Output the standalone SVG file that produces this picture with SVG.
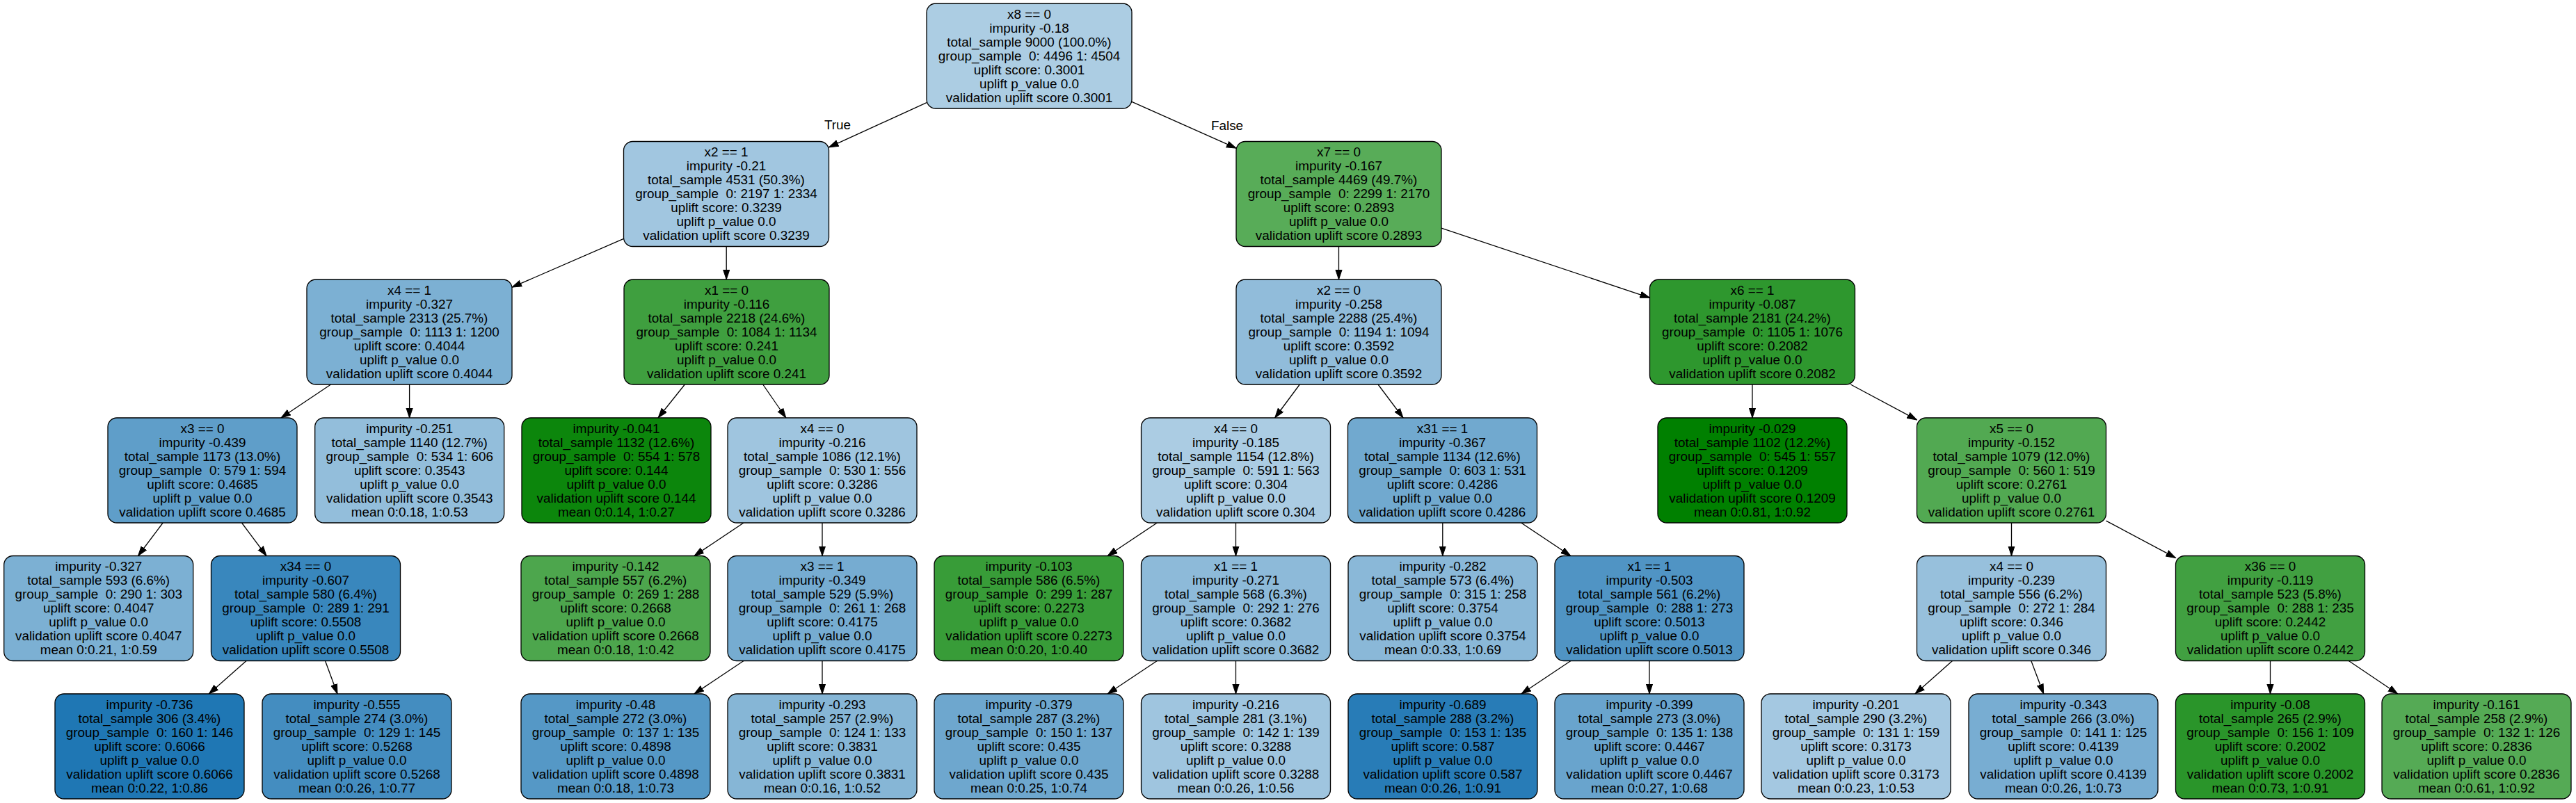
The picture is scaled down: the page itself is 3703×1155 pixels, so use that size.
<svg xmlns="http://www.w3.org/2000/svg" width="3703" height="1155" viewBox="0 0 3703 1155">
<style>
.bg{fill:#ffffff}
.box{stroke:#000000;stroke-width:1.3}
.t{font-family:"Liberation Sans",Arial,Helvetica,sans-serif;font-size:18.9px;fill:#000000;text-anchor:middle;white-space:pre}
.e{stroke:#000000;stroke-width:1.3;fill:none;marker-end:url(#arr)}
</style>
<defs>
<marker id="arr" markerUnits="userSpaceOnUse" markerWidth="15" markerHeight="11" refX="14" refY="5" orient="auto">
<path d="M0,0.4 L14,5 L0,9.6 Z" fill="#000000" stroke="#000000" stroke-width="1"/>
</marker>
</defs>
<rect class="bg" x="0" y="0" width="3703" height="1155"/>
<g id="connectors">
<line class="e" x1="1332" y1="147.7" x2="1191.5" y2="211.8"/>
<line class="e" x1="1627" y1="146.3" x2="1777" y2="213.2"/>
<line class="e" x1="896.5" y1="343.3" x2="736" y2="413.2"/>
<line class="e" x1="1044.2" y1="354.5" x2="1044.2" y2="402"/>
<line class="e" x1="1924.5" y1="354.5" x2="1924.5" y2="402"/>
<line class="e" x1="2072" y1="328.2" x2="2371.5" y2="428.3"/>
<line class="e" x1="475.6" y1="553" x2="404" y2="601"/>
<line class="e" x1="588.6" y1="553" x2="588.6" y2="601"/>
<line class="e" x1="984.4" y1="553" x2="946.1" y2="601"/>
<line class="e" x1="1096.7" y1="553" x2="1129.8" y2="601"/>
<line class="e" x1="1868.3" y1="553" x2="1832.7" y2="601"/>
<line class="e" x1="1981" y1="553" x2="2017" y2="601"/>
<line class="e" x1="2519" y1="553" x2="2519" y2="601"/>
<line class="e" x1="2660.3" y1="553" x2="2755.5" y2="603.9"/>
<line class="e" x1="234.2" y1="752" x2="198.5" y2="799.5"/>
<line class="e" x1="347.5" y1="752" x2="383" y2="799.5"/>
<line class="e" x1="1069" y1="752" x2="998" y2="799.5"/>
<line class="e" x1="1182" y1="752" x2="1182" y2="799.5"/>
<line class="e" x1="1663.3" y1="752" x2="1592.2" y2="799.5"/>
<line class="e" x1="1776.5" y1="752" x2="1776.5" y2="799.5"/>
<line class="e" x1="2073.8" y1="752" x2="2073.8" y2="799.5"/>
<line class="e" x1="2186.7" y1="752" x2="2257.8" y2="799.5"/>
<line class="e" x1="2891.5" y1="752" x2="2891.5" y2="799.5"/>
<line class="e" x1="3027.5" y1="749.1" x2="3127.5" y2="802.4"/>
<line class="e" x1="354.1" y1="950.5" x2="300.4" y2="998"/>
<line class="e" x1="467.5" y1="950.5" x2="485" y2="998"/>
<line class="e" x1="1069" y1="950.5" x2="998" y2="998"/>
<line class="e" x1="1182" y1="950.5" x2="1182" y2="998"/>
<line class="e" x1="1663.3" y1="950.5" x2="1592.2" y2="998"/>
<line class="e" x1="1776.5" y1="950.5" x2="1776.5" y2="998"/>
<line class="e" x1="2258" y1="950.5" x2="2187" y2="998"/>
<line class="e" x1="2371" y1="950.5" x2="2371" y2="998"/>
<line class="e" x1="2806.5" y1="950.5" x2="2753" y2="998"/>
<line class="e" x1="2919.8" y1="950.5" x2="2937.7" y2="998"/>
<line class="e" x1="3263.5" y1="950.5" x2="3263.5" y2="998"/>
<line class="e" x1="3376.3" y1="950.5" x2="3446.7" y2="998"/>
<text class="t" x="1204" y="186">True</text>
<text class="t" x="1764" y="187">False</text>
</g>
<g id="n0"><rect class="box" x="1332" y="5" width="295" height="151" rx="13" fill="#accde3"/><text class="t" x="1479.5" y="26.5"><tspan x="1479.5">x8 == 0</tspan><tspan x="1479.5" dy="20">impurity -0.18</tspan><tspan x="1479.5" dy="20">total_sample 9000 (100.0%)</tspan><tspan x="1479.5" dy="20">group_sample  0: 4496 1: 4504</tspan><tspan x="1479.5" dy="20">uplift score: 0.3001</tspan><tspan x="1479.5" dy="20">uplift p_value 0.0</tspan><tspan x="1479.5" dy="20">validation uplift score 0.3001</tspan></text></g>
<g id="n1"><rect class="box" x="896.5" y="203.5" width="295" height="151" rx="13" fill="#a1c6e0"/><text class="t" x="1044" y="225"><tspan x="1044">x2 == 1</tspan><tspan x="1044" dy="20">impurity -0.21</tspan><tspan x="1044" dy="20">total_sample 4531 (50.3%)</tspan><tspan x="1044" dy="20">group_sample  0: 2197 1: 2334</tspan><tspan x="1044" dy="20">uplift score: 0.3239</tspan><tspan x="1044" dy="20">uplift p_value 0.0</tspan><tspan x="1044" dy="20">validation uplift score 0.3239</tspan></text></g>
<g id="n2"><rect class="box" x="1777" y="203.5" width="295" height="151" rx="13" fill="#58ac58"/><text class="t" x="1924.5" y="225"><tspan x="1924.5">x7 == 0</tspan><tspan x="1924.5" dy="20">impurity -0.167</tspan><tspan x="1924.5" dy="20">total_sample 4469 (49.7%)</tspan><tspan x="1924.5" dy="20">group_sample  0: 2299 1: 2170</tspan><tspan x="1924.5" dy="20">uplift score: 0.2893</tspan><tspan x="1924.5" dy="20">uplift p_value 0.0</tspan><tspan x="1924.5" dy="20">validation uplift score 0.2893</tspan></text></g>
<g id="n3"><rect class="box" x="441" y="402" width="295" height="151" rx="13" fill="#7cb0d3"/><text class="t" x="588.5" y="423.5"><tspan x="588.5">x4 == 1</tspan><tspan x="588.5" dy="20">impurity -0.327</tspan><tspan x="588.5" dy="20">total_sample 2313 (25.7%)</tspan><tspan x="588.5" dy="20">group_sample  0: 1113 1: 1200</tspan><tspan x="588.5" dy="20">uplift score: 0.4044</tspan><tspan x="588.5" dy="20">uplift p_value 0.0</tspan><tspan x="588.5" dy="20">validation uplift score 0.4044</tspan></text></g>
<g id="n4"><rect class="box" x="897" y="402" width="295" height="151" rx="13" fill="#3f9f3f"/><text class="t" x="1044.5" y="423.5"><tspan x="1044.5">x1 == 0</tspan><tspan x="1044.5" dy="20">impurity -0.116</tspan><tspan x="1044.5" dy="20">total_sample 2218 (24.6%)</tspan><tspan x="1044.5" dy="20">group_sample  0: 1084 1: 1134</tspan><tspan x="1044.5" dy="20">uplift score: 0.241</tspan><tspan x="1044.5" dy="20">uplift p_value 0.0</tspan><tspan x="1044.5" dy="20">validation uplift score 0.241</tspan></text></g>
<g id="n5"><rect class="box" x="1777" y="402" width="295" height="151" rx="13" fill="#91bcda"/><text class="t" x="1924.5" y="423.5"><tspan x="1924.5">x2 == 0</tspan><tspan x="1924.5" dy="20">impurity -0.258</tspan><tspan x="1924.5" dy="20">total_sample 2288 (25.4%)</tspan><tspan x="1924.5" dy="20">group_sample  0: 1194 1: 1094</tspan><tspan x="1924.5" dy="20">uplift score: 0.3592</tspan><tspan x="1924.5" dy="20">uplift p_value 0.0</tspan><tspan x="1924.5" dy="20">validation uplift score 0.3592</tspan></text></g>
<g id="n6"><rect class="box" x="2371.5" y="402" width="295" height="151" rx="13" fill="#2e972e"/><text class="t" x="2519" y="423.5"><tspan x="2519">x6 == 1</tspan><tspan x="2519" dy="20">impurity -0.087</tspan><tspan x="2519" dy="20">total_sample 2181 (24.2%)</tspan><tspan x="2519" dy="20">group_sample  0: 1105 1: 1076</tspan><tspan x="2519" dy="20">uplift score: 0.2082</tspan><tspan x="2519" dy="20">uplift p_value 0.0</tspan><tspan x="2519" dy="20">validation uplift score 0.2082</tspan></text></g>
<g id="n7"><rect class="box" x="155" y="601" width="272" height="151" rx="13" fill="#5f9ec9"/><text class="t" x="291" y="622.5"><tspan x="291">x3 == 0</tspan><tspan x="291" dy="20">impurity -0.439</tspan><tspan x="291" dy="20">total_sample 1173 (13.0%)</tspan><tspan x="291" dy="20">group_sample  0: 579 1: 594</tspan><tspan x="291" dy="20">uplift score: 0.4685</tspan><tspan x="291" dy="20">uplift p_value 0.0</tspan><tspan x="291" dy="20">validation uplift score 0.4685</tspan></text></g>
<g id="n8"><rect class="box" x="452.7" y="601" width="272" height="151" rx="13" fill="#93bedb"/><text class="t" x="588.7" y="622.5"><tspan x="588.7">impurity -0.251</tspan><tspan x="588.7" dy="20">total_sample 1140 (12.7%)</tspan><tspan x="588.7" dy="20">group_sample  0: 534 1: 606</tspan><tspan x="588.7" dy="20">uplift score: 0.3543</tspan><tspan x="588.7" dy="20">uplift p_value 0.0</tspan><tspan x="588.7" dy="20">validation uplift score 0.3543</tspan><tspan x="588.7" dy="20">mean 0:0.18, 1:0.53</tspan></text></g>
<g id="n9"><rect class="box" x="750" y="601" width="272" height="151" rx="13" fill="#0c860c"/><text class="t" x="886" y="622.5"><tspan x="886">impurity -0.041</tspan><tspan x="886" dy="20">total_sample 1132 (12.6%)</tspan><tspan x="886" dy="20">group_sample  0: 554 1: 578</tspan><tspan x="886" dy="20">uplift score: 0.144</tspan><tspan x="886" dy="20">uplift p_value 0.0</tspan><tspan x="886" dy="20">validation uplift score 0.144</tspan><tspan x="886" dy="20">mean 0:0.14, 1:0.27</tspan></text></g>
<g id="n10"><rect class="box" x="1046" y="601" width="272" height="151" rx="13" fill="#9fc5df"/><text class="t" x="1182" y="622.5"><tspan x="1182">x4 == 0</tspan><tspan x="1182" dy="20">impurity -0.216</tspan><tspan x="1182" dy="20">total_sample 1086 (12.1%)</tspan><tspan x="1182" dy="20">group_sample  0: 530 1: 556</tspan><tspan x="1182" dy="20">uplift score: 0.3286</tspan><tspan x="1182" dy="20">uplift p_value 0.0</tspan><tspan x="1182" dy="20">validation uplift score 0.3286</tspan></text></g>
<g id="n11"><rect class="box" x="1640.5" y="601" width="272" height="151" rx="13" fill="#abcce3"/><text class="t" x="1776.5" y="622.5"><tspan x="1776.5">x4 == 0</tspan><tspan x="1776.5" dy="20">impurity -0.185</tspan><tspan x="1776.5" dy="20">total_sample 1154 (12.8%)</tspan><tspan x="1776.5" dy="20">group_sample  0: 591 1: 563</tspan><tspan x="1776.5" dy="20">uplift score: 0.304</tspan><tspan x="1776.5" dy="20">uplift p_value 0.0</tspan><tspan x="1776.5" dy="20">validation uplift score 0.304</tspan></text></g>
<g id="n12"><rect class="box" x="1937.5" y="601" width="272" height="151" rx="13" fill="#71a9cf"/><text class="t" x="2073.5" y="622.5"><tspan x="2073.5">x31 == 1</tspan><tspan x="2073.5" dy="20">impurity -0.367</tspan><tspan x="2073.5" dy="20">total_sample 1134 (12.6%)</tspan><tspan x="2073.5" dy="20">group_sample  0: 603 1: 531</tspan><tspan x="2073.5" dy="20">uplift score: 0.4286</tspan><tspan x="2073.5" dy="20">uplift p_value 0.0</tspan><tspan x="2073.5" dy="20">validation uplift score 0.4286</tspan></text></g>
<g id="n13"><rect class="box" x="2383" y="601" width="272" height="151" rx="13" fill="#008000"/><text class="t" x="2519" y="622.5"><tspan x="2519">impurity -0.029</tspan><tspan x="2519" dy="20">total_sample 1102 (12.2%)</tspan><tspan x="2519" dy="20">group_sample  0: 545 1: 557</tspan><tspan x="2519" dy="20">uplift score: 0.1209</tspan><tspan x="2519" dy="20">uplift p_value 0.0</tspan><tspan x="2519" dy="20">validation uplift score 0.1209</tspan><tspan x="2519" dy="20">mean 0:0.81, 1:0.92</tspan></text></g>
<g id="n14"><rect class="box" x="2755.5" y="601" width="272" height="151" rx="13" fill="#52a952"/><text class="t" x="2891.5" y="622.5"><tspan x="2891.5">x5 == 0</tspan><tspan x="2891.5" dy="20">impurity -0.152</tspan><tspan x="2891.5" dy="20">total_sample 1079 (12.0%)</tspan><tspan x="2891.5" dy="20">group_sample  0: 560 1: 519</tspan><tspan x="2891.5" dy="20">uplift score: 0.2761</tspan><tspan x="2891.5" dy="20">uplift p_value 0.0</tspan><tspan x="2891.5" dy="20">validation uplift score 0.2761</tspan></text></g>
<g id="n15"><rect class="box" x="5.7" y="799.5" width="272" height="151" rx="13" fill="#7cb0d3"/><text class="t" x="141.7" y="821"><tspan x="141.7">impurity -0.327</tspan><tspan x="141.7" dy="20">total_sample 593 (6.6%)</tspan><tspan x="141.7" dy="20">group_sample  0: 290 1: 303</tspan><tspan x="141.7" dy="20">uplift score: 0.4047</tspan><tspan x="141.7" dy="20">uplift p_value 0.0</tspan><tspan x="141.7" dy="20">validation uplift score 0.4047</tspan><tspan x="141.7" dy="20">mean 0:0.21, 1:0.59</tspan></text></g>
<g id="n16"><rect class="box" x="303.5" y="799.5" width="272" height="151" rx="13" fill="#3987bd"/><text class="t" x="439.5" y="821"><tspan x="439.5">x34 == 0</tspan><tspan x="439.5" dy="20">impurity -0.607</tspan><tspan x="439.5" dy="20">total_sample 580 (6.4%)</tspan><tspan x="439.5" dy="20">group_sample  0: 289 1: 291</tspan><tspan x="439.5" dy="20">uplift score: 0.5508</tspan><tspan x="439.5" dy="20">uplift p_value 0.0</tspan><tspan x="439.5" dy="20">validation uplift score 0.5508</tspan></text></g>
<g id="n17"><rect class="box" x="749" y="799.5" width="272" height="151" rx="13" fill="#4da64d"/><text class="t" x="885" y="821"><tspan x="885">impurity -0.142</tspan><tspan x="885" dy="20">total_sample 557 (6.2%)</tspan><tspan x="885" dy="20">group_sample  0: 269 1: 288</tspan><tspan x="885" dy="20">uplift score: 0.2668</tspan><tspan x="885" dy="20">uplift p_value 0.0</tspan><tspan x="885" dy="20">validation uplift score 0.2668</tspan><tspan x="885" dy="20">mean 0:0.18, 1:0.42</tspan></text></g>
<g id="n18"><rect class="box" x="1046" y="799.5" width="272" height="151" rx="13" fill="#76acd1"/><text class="t" x="1182" y="821"><tspan x="1182">x3 == 1</tspan><tspan x="1182" dy="20">impurity -0.349</tspan><tspan x="1182" dy="20">total_sample 529 (5.9%)</tspan><tspan x="1182" dy="20">group_sample  0: 261 1: 268</tspan><tspan x="1182" dy="20">uplift score: 0.4175</tspan><tspan x="1182" dy="20">uplift p_value 0.0</tspan><tspan x="1182" dy="20">validation uplift score 0.4175</tspan></text></g>
<g id="n19"><rect class="box" x="1343" y="799.5" width="272" height="151" rx="13" fill="#389c38"/><text class="t" x="1479" y="821"><tspan x="1479">impurity -0.103</tspan><tspan x="1479" dy="20">total_sample 586 (6.5%)</tspan><tspan x="1479" dy="20">group_sample  0: 299 1: 287</tspan><tspan x="1479" dy="20">uplift score: 0.2273</tspan><tspan x="1479" dy="20">uplift p_value 0.0</tspan><tspan x="1479" dy="20">validation uplift score 0.2273</tspan><tspan x="1479" dy="20">mean 0:0.20, 1:0.40</tspan></text></g>
<g id="n20"><rect class="box" x="1640.5" y="799.5" width="272" height="151" rx="13" fill="#8dbad9"/><text class="t" x="1776.5" y="821"><tspan x="1776.5">x1 == 1</tspan><tspan x="1776.5" dy="20">impurity -0.271</tspan><tspan x="1776.5" dy="20">total_sample 568 (6.3%)</tspan><tspan x="1776.5" dy="20">group_sample  0: 292 1: 276</tspan><tspan x="1776.5" dy="20">uplift score: 0.3682</tspan><tspan x="1776.5" dy="20">uplift p_value 0.0</tspan><tspan x="1776.5" dy="20">validation uplift score 0.3682</tspan></text></g>
<g id="n21"><rect class="box" x="1938" y="799.5" width="272" height="151" rx="13" fill="#8ab8d8"/><text class="t" x="2074" y="821"><tspan x="2074">impurity -0.282</tspan><tspan x="2074" dy="20">total_sample 573 (6.4%)</tspan><tspan x="2074" dy="20">group_sample  0: 315 1: 258</tspan><tspan x="2074" dy="20">uplift score: 0.3754</tspan><tspan x="2074" dy="20">uplift p_value 0.0</tspan><tspan x="2074" dy="20">validation uplift score 0.3754</tspan><tspan x="2074" dy="20">mean 0:0.33, 1:0.69</tspan></text></g>
<g id="n22"><rect class="box" x="2235" y="799.5" width="272" height="151" rx="13" fill="#5094c4"/><text class="t" x="2371" y="821"><tspan x="2371">x1 == 1</tspan><tspan x="2371" dy="20">impurity -0.503</tspan><tspan x="2371" dy="20">total_sample 561 (6.2%)</tspan><tspan x="2371" dy="20">group_sample  0: 288 1: 273</tspan><tspan x="2371" dy="20">uplift score: 0.5013</tspan><tspan x="2371" dy="20">uplift p_value 0.0</tspan><tspan x="2371" dy="20">validation uplift score 0.5013</tspan></text></g>
<g id="n23"><rect class="box" x="2755.5" y="799.5" width="272" height="151" rx="13" fill="#97c0dc"/><text class="t" x="2891.5" y="821"><tspan x="2891.5">x4 == 0</tspan><tspan x="2891.5" dy="20">impurity -0.239</tspan><tspan x="2891.5" dy="20">total_sample 556 (6.2%)</tspan><tspan x="2891.5" dy="20">group_sample  0: 272 1: 284</tspan><tspan x="2891.5" dy="20">uplift score: 0.346</tspan><tspan x="2891.5" dy="20">uplift p_value 0.0</tspan><tspan x="2891.5" dy="20">validation uplift score 0.346</tspan></text></g>
<g id="n24"><rect class="box" x="3127.5" y="799.5" width="272" height="151" rx="13" fill="#41a041"/><text class="t" x="3263.5" y="821"><tspan x="3263.5">x36 == 0</tspan><tspan x="3263.5" dy="20">impurity -0.119</tspan><tspan x="3263.5" dy="20">total_sample 523 (5.8%)</tspan><tspan x="3263.5" dy="20">group_sample  0: 288 1: 235</tspan><tspan x="3263.5" dy="20">uplift score: 0.2442</tspan><tspan x="3263.5" dy="20">uplift p_value 0.0</tspan><tspan x="3263.5" dy="20">validation uplift score 0.2442</tspan></text></g>
<g id="n25"><rect class="box" x="79" y="998" width="272" height="151" rx="13" fill="#1f77b4"/><text class="t" x="215" y="1019.5"><tspan x="215">impurity -0.736</tspan><tspan x="215" dy="20">total_sample 306 (3.4%)</tspan><tspan x="215" dy="20">group_sample  0: 160 1: 146</tspan><tspan x="215" dy="20">uplift score: 0.6066</tspan><tspan x="215" dy="20">uplift p_value 0.0</tspan><tspan x="215" dy="20">validation uplift score 0.6066</tspan><tspan x="215" dy="20">mean 0:0.22, 1:0.86</tspan></text></g>
<g id="n26"><rect class="box" x="377" y="998" width="272" height="151" rx="13" fill="#448dc0"/><text class="t" x="513" y="1019.5"><tspan x="513">impurity -0.555</tspan><tspan x="513" dy="20">total_sample 274 (3.0%)</tspan><tspan x="513" dy="20">group_sample  0: 129 1: 145</tspan><tspan x="513" dy="20">uplift score: 0.5268</tspan><tspan x="513" dy="20">uplift p_value 0.0</tspan><tspan x="513" dy="20">validation uplift score 0.5268</tspan><tspan x="513" dy="20">mean 0:0.26, 1:0.77</tspan></text></g>
<g id="n27"><rect class="box" x="749" y="998" width="272" height="151" rx="13" fill="#5598c6"/><text class="t" x="885" y="1019.5"><tspan x="885">impurity -0.48</tspan><tspan x="885" dy="20">total_sample 272 (3.0%)</tspan><tspan x="885" dy="20">group_sample  0: 137 1: 135</tspan><tspan x="885" dy="20">uplift score: 0.4898</tspan><tspan x="885" dy="20">uplift p_value 0.0</tspan><tspan x="885" dy="20">validation uplift score 0.4898</tspan><tspan x="885" dy="20">mean 0:0.18, 1:0.73</tspan></text></g>
<g id="n28"><rect class="box" x="1046" y="998" width="272" height="151" rx="13" fill="#86b6d6"/><text class="t" x="1182" y="1019.5"><tspan x="1182">impurity -0.293</tspan><tspan x="1182" dy="20">total_sample 257 (2.9%)</tspan><tspan x="1182" dy="20">group_sample  0: 124 1: 133</tspan><tspan x="1182" dy="20">uplift score: 0.3831</tspan><tspan x="1182" dy="20">uplift p_value 0.0</tspan><tspan x="1182" dy="20">validation uplift score 0.3831</tspan><tspan x="1182" dy="20">mean 0:0.16, 1:0.52</tspan></text></g>
<g id="n29"><rect class="box" x="1343" y="998" width="272" height="151" rx="13" fill="#6ea7ce"/><text class="t" x="1479" y="1019.5"><tspan x="1479">impurity -0.379</tspan><tspan x="1479" dy="20">total_sample 287 (3.2%)</tspan><tspan x="1479" dy="20">group_sample  0: 150 1: 137</tspan><tspan x="1479" dy="20">uplift score: 0.435</tspan><tspan x="1479" dy="20">uplift p_value 0.0</tspan><tspan x="1479" dy="20">validation uplift score 0.435</tspan><tspan x="1479" dy="20">mean 0:0.25, 1:0.74</tspan></text></g>
<g id="n30"><rect class="box" x="1640.5" y="998" width="272" height="151" rx="13" fill="#9fc5df"/><text class="t" x="1776.5" y="1019.5"><tspan x="1776.5">impurity -0.216</tspan><tspan x="1776.5" dy="20">total_sample 281 (3.1%)</tspan><tspan x="1776.5" dy="20">group_sample  0: 142 1: 139</tspan><tspan x="1776.5" dy="20">uplift score: 0.3288</tspan><tspan x="1776.5" dy="20">uplift p_value 0.0</tspan><tspan x="1776.5" dy="20">validation uplift score 0.3288</tspan><tspan x="1776.5" dy="20">mean 0:0.26, 1:0.56</tspan></text></g>
<g id="n31"><rect class="box" x="1938" y="998" width="272" height="151" rx="13" fill="#287cb7"/><text class="t" x="2074" y="1019.5"><tspan x="2074">impurity -0.689</tspan><tspan x="2074" dy="20">total_sample 288 (3.2%)</tspan><tspan x="2074" dy="20">group_sample  0: 153 1: 135</tspan><tspan x="2074" dy="20">uplift score: 0.587</tspan><tspan x="2074" dy="20">uplift p_value 0.0</tspan><tspan x="2074" dy="20">validation uplift score 0.587</tspan><tspan x="2074" dy="20">mean 0:0.26, 1:0.91</tspan></text></g>
<g id="n32"><rect class="box" x="2235" y="998" width="272" height="151" rx="13" fill="#69a4cd"/><text class="t" x="2371" y="1019.5"><tspan x="2371">impurity -0.399</tspan><tspan x="2371" dy="20">total_sample 273 (3.0%)</tspan><tspan x="2371" dy="20">group_sample  0: 135 1: 138</tspan><tspan x="2371" dy="20">uplift score: 0.4467</tspan><tspan x="2371" dy="20">uplift p_value 0.0</tspan><tspan x="2371" dy="20">validation uplift score 0.4467</tspan><tspan x="2371" dy="20">mean 0:0.27, 1:0.68</tspan></text></g>
<g id="n33"><rect class="box" x="2532" y="998" width="272" height="151" rx="13" fill="#a4c8e1"/><text class="t" x="2668" y="1019.5"><tspan x="2668">impurity -0.201</tspan><tspan x="2668" dy="20">total_sample 290 (3.2%)</tspan><tspan x="2668" dy="20">group_sample  0: 131 1: 159</tspan><tspan x="2668" dy="20">uplift score: 0.3173</tspan><tspan x="2668" dy="20">uplift p_value 0.0</tspan><tspan x="2668" dy="20">validation uplift score 0.3173</tspan><tspan x="2668" dy="20">mean 0:0.23, 1:0.53</tspan></text></g>
<g id="n34"><rect class="box" x="2830" y="998" width="272" height="151" rx="13" fill="#78add2"/><text class="t" x="2966" y="1019.5"><tspan x="2966">impurity -0.343</tspan><tspan x="2966" dy="20">total_sample 266 (3.0%)</tspan><tspan x="2966" dy="20">group_sample  0: 141 1: 125</tspan><tspan x="2966" dy="20">uplift score: 0.4139</tspan><tspan x="2966" dy="20">uplift p_value 0.0</tspan><tspan x="2966" dy="20">validation uplift score 0.4139</tspan><tspan x="2966" dy="20">mean 0:0.26, 1:0.73</tspan></text></g>
<g id="n35"><rect class="box" x="3127.5" y="998" width="272" height="151" rx="13" fill="#2a952a"/><text class="t" x="3263.5" y="1019.5"><tspan x="3263.5">impurity -0.08</tspan><tspan x="3263.5" dy="20">total_sample 265 (2.9%)</tspan><tspan x="3263.5" dy="20">group_sample  0: 156 1: 109</tspan><tspan x="3263.5" dy="20">uplift score: 0.2002</tspan><tspan x="3263.5" dy="20">uplift p_value 0.0</tspan><tspan x="3263.5" dy="20">validation uplift score 0.2002</tspan><tspan x="3263.5" dy="20">mean 0:0.73, 1:0.91</tspan></text></g>
<g id="n36"><rect class="box" x="3424" y="998" width="272" height="151" rx="13" fill="#55aa55"/><text class="t" x="3560" y="1019.5"><tspan x="3560">impurity -0.161</tspan><tspan x="3560" dy="20">total_sample 258 (2.9%)</tspan><tspan x="3560" dy="20">group_sample  0: 132 1: 126</tspan><tspan x="3560" dy="20">uplift score: 0.2836</tspan><tspan x="3560" dy="20">uplift p_value 0.0</tspan><tspan x="3560" dy="20">validation uplift score 0.2836</tspan><tspan x="3560" dy="20">mean 0:0.61, 1:0.92</tspan></text></g>
</svg>
